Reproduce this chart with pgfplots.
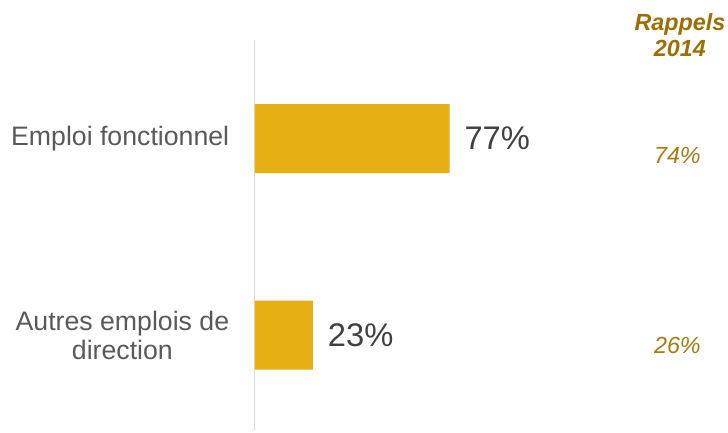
\documentclass[border=0pt]{standalone}
\usepackage{pgfplots}
\pgfplotsset{compat=1.18}
\usepackage{fontspec}
\setmainfont{Liberation Sans}

\definecolor{barGold}{HTML}{E6AF14}
\definecolor{headGold}{HTML}{9C6E00}
\definecolor{oldGold}{HTML}{A47B16}
\definecolor{txtGrey}{HTML}{404040}
\definecolor{catGrey}{HTML}{595959}
\definecolor{lineGrey}{HTML}{D9D9D9}

\begin{document}
\begin{tikzpicture}
\begin{axis}[
    scale only axis,
    width=354.75pt, height=292.5pt,
    xmin=0, xmax=187,
    ymin=-0.483, ymax=1.501,
    hide x axis,
    axis y line=left,
    axis line style={-, draw=lineGrey, line width=1pt},
    ytick={0,1},
    yticklabels={{Autres emplois de\\direction}, {Emploi fonctionnel}},
    major tick length=0pt,
    yticklabel style={align=center,
        font=\fontsize{20}{22}\selectfont,
        text=catGrey, inner sep=0pt, xshift=-19pt},
    /pgf/number format/assume math mode=true,
    clip=false,
]
% 2015 shares
\addplot[xbar, bar width=51.75pt, fill=barGold, draw=none,
    nodes near coords={\pgfmathprintnumber\pgfplotspointmeta\%},
    point meta=x,
    nodes near coords style={anchor=west, inner sep=0pt, xshift=11pt,
        font=\fontsize{24.5}{28}\selectfont, text=txtGrey}]
    coordinates {(23,0) (77,1)};
% rappels 2014
\addplot[draw=none, mark=none,
    nodes near coords={\pgfmathprintnumber\pgfplotspointmeta\%},
    point meta=explicit,
    nodes near coords style={anchor=center, inner sep=0pt,
        font=\fontsize{17.5}{21}\selectfont\itshape, text=oldGold}]
    coordinates {(167,0.916) [74] (167,-0.051) [26]};
\node[align=center, inner xsep=2pt, inner ysep=1pt,
    font=\fontsize{17.5}{19}\selectfont\bfseries\itshape,
    text=headGold] at (axis cs:168,1.526) {Rappels\\2014};
% margins as in the reference
\path ([xshift=-191pt, yshift=-1.5pt]rel axis cs:0,0);
\path ([yshift=30pt]rel axis cs:0,1);
\end{axis}
\end{tikzpicture}
\end{document}
